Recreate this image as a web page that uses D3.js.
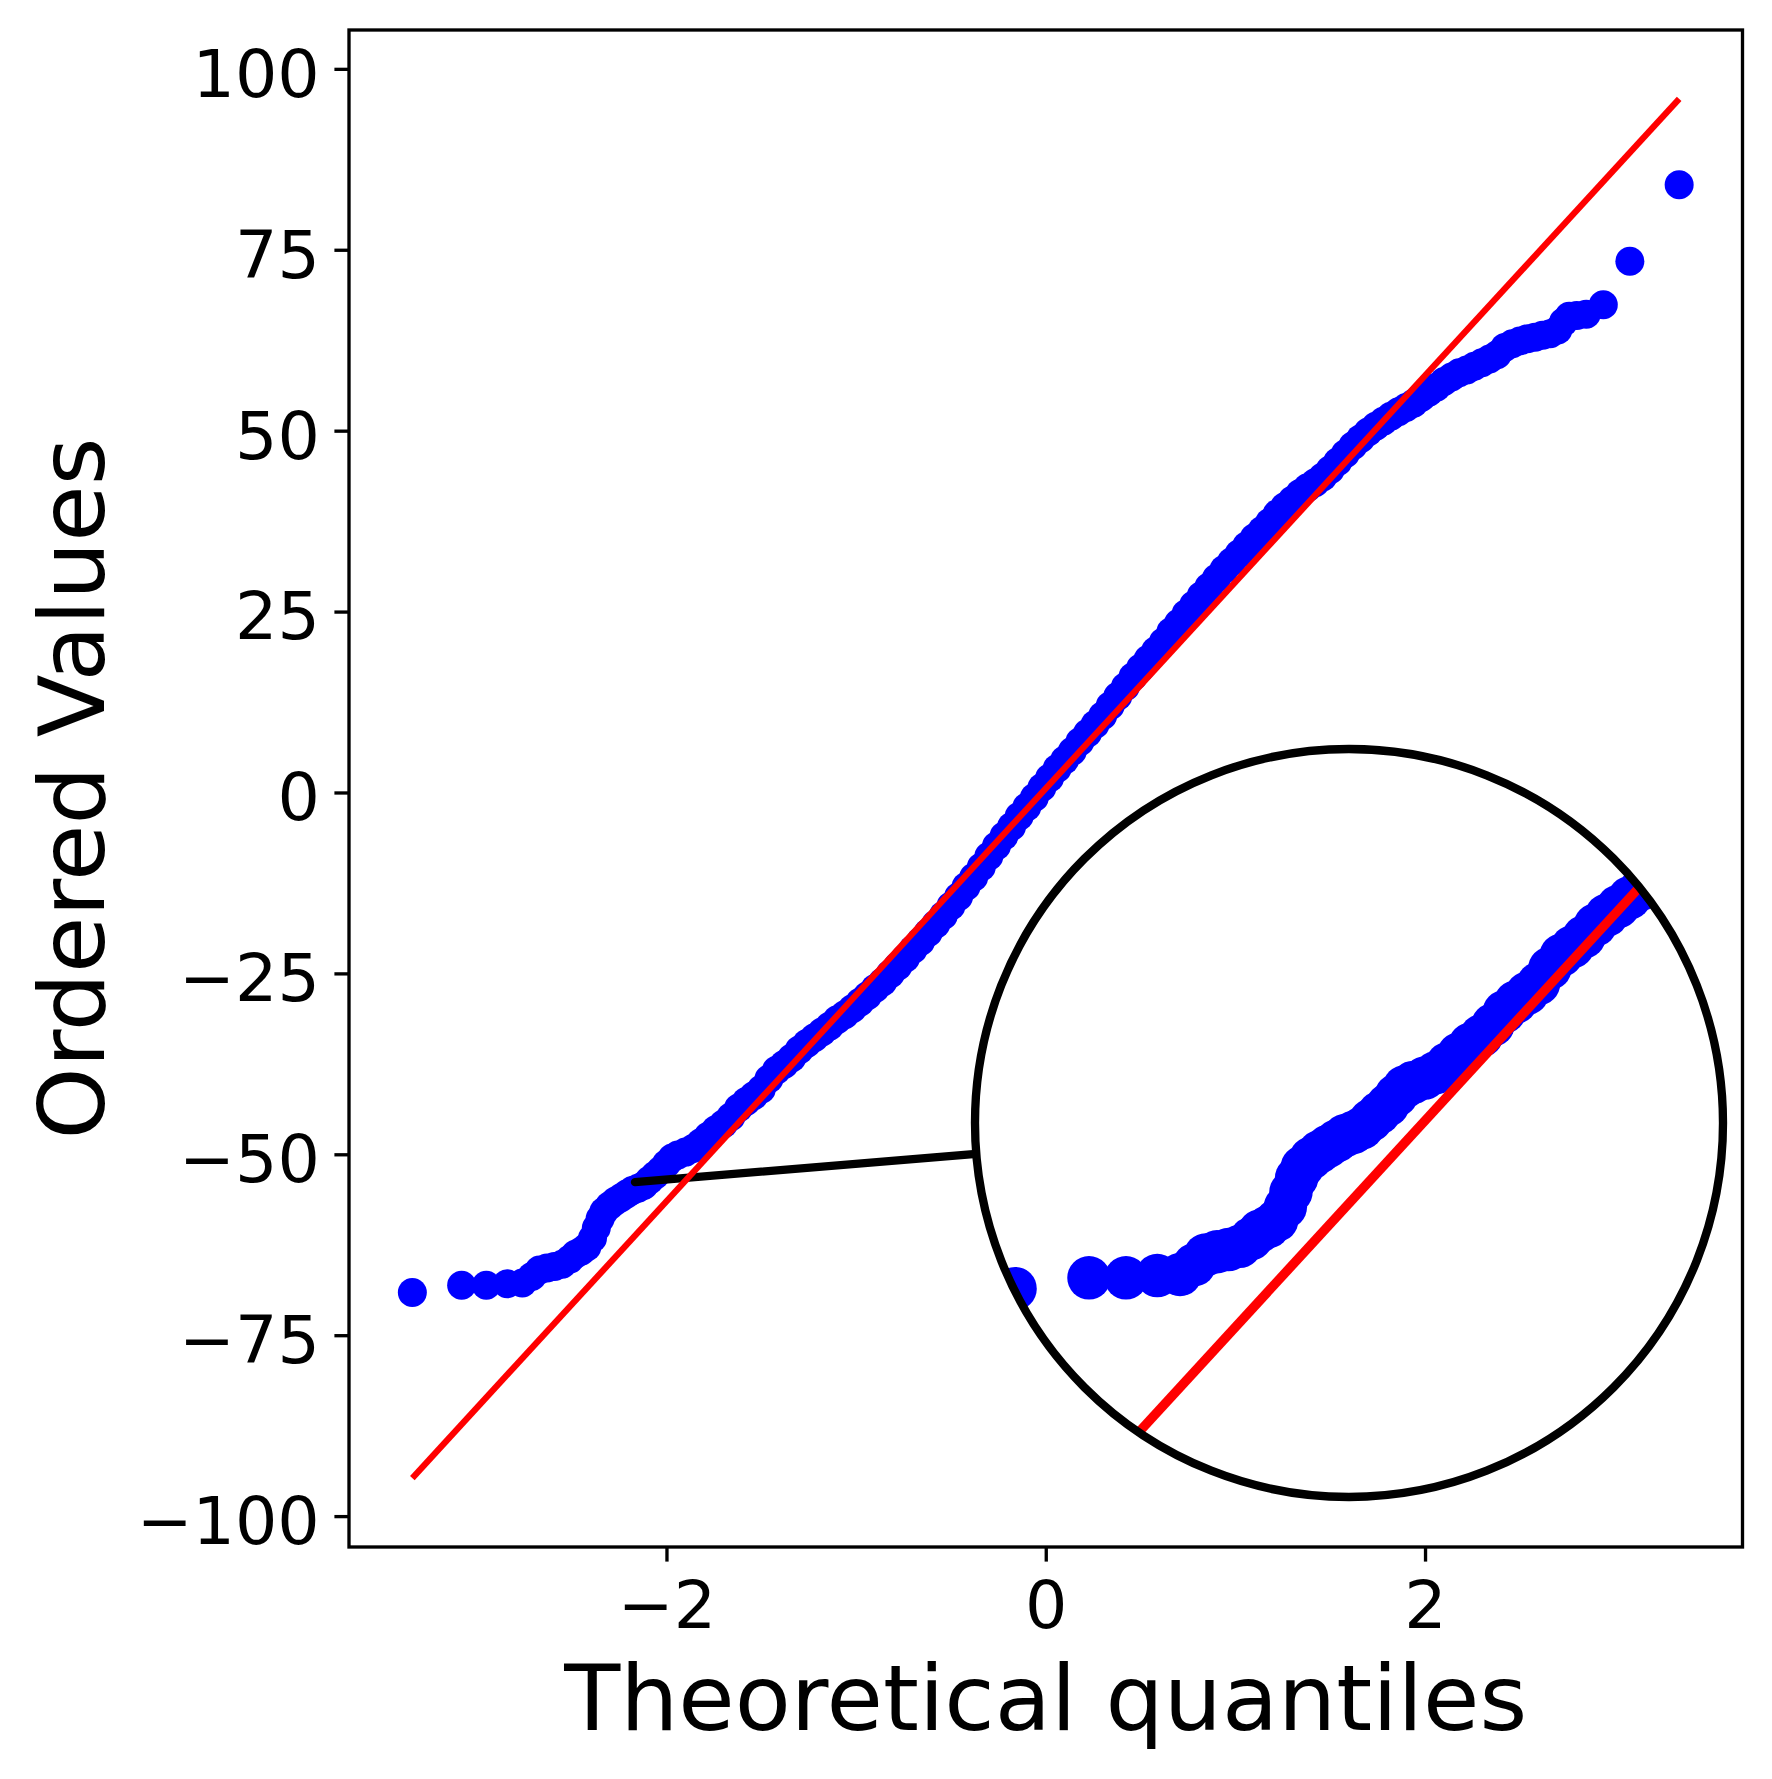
<!DOCTYPE html>
<meta charset="utf-8">
<style>
body { margin: 0; background: #fff; }
text { font-family: "DejaVu Sans", sans-serif; fill: #000; }
.tick line { stroke: #000; stroke-width: 3.33px; }
.domain { display: none; }
</style>
<body>
<script src="https://d3js.org/d3.v7.min.js"></script>
<script>

// theoretical quantiles (x) and ordered values (y)
var qx = [-3.34, -3.08, -2.95, -2.84, -2.76, -2.71, -2.67, -2.63, -2.59, -2.55,
          -2.51, -2.48, -2.45, -2.42, -2.39, -2.37, -2.35, -2.33, -2.30, -2.27,
          -2.24, -2.21, -2.18, -2.15, -2.12, -2.09, -2.06, -2.03, -2.00, -1.97,
          -1.94, -1.90, -1.86, -1.82, -1.78, -1.74, -1.70, -1.66, -1.62, -1.58,
          -1.54, -1.50, -1.46, -1.42, -1.38, -1.34, -1.30, -1.26, -1.22, -1.18,
          -1.14, -1.10, -1.06, -1.02, -0.98, -0.94, -0.90, -0.86, -0.82, -0.78,
          -0.74, -0.70, -0.66, -0.62, -0.58, -0.54, -0.50, -0.46, -0.42, -0.38,
          -0.34, -0.30, -0.26, -0.22, -0.18, -0.14, -0.10, -0.06, -0.02, 0.02,
          0.06, 0.10, 0.14, 0.18, 0.22, 0.26, 0.30, 0.34, 0.38, 0.42,
          0.46, 0.50, 0.54, 0.58, 0.62, 0.66, 0.70, 0.74, 0.78, 0.82,
          0.86, 0.90, 0.94, 0.98, 1.02, 1.06, 1.10, 1.14, 1.18, 1.22,
          1.26, 1.30, 1.34, 1.38, 1.42, 1.46, 1.50, 1.54, 1.58, 1.62,
          1.66, 1.70, 1.74, 1.78, 1.82, 1.86, 1.90, 1.94, 1.98, 2.02,
          2.06, 2.10, 2.14, 2.18, 2.22, 2.26, 2.30, 2.34, 2.38, 2.42,
          2.46, 2.50, 2.54, 2.58, 2.62, 2.66, 2.70, 2.73, 2.76, 2.80,
          2.85, 2.94, 3.08, 3.34];
var qy = [-69.1, -68.1, -68.1, -67.9, -67.8, -66.9, -66.0, -65.7, -65.5, -65.2,
          -64.5, -63.8, -63.4, -62.8, -61.6, -60.2, -58.9, -57.9, -57.1, -56.5,
          -56.0, -55.5, -55.0, -54.7, -54.3, -53.6, -52.9, -52.2, -51.3, -50.5,
          -50.1, -49.7, -49.2, -48.4, -47.5, -46.6, -45.8, -44.8, -43.6, -42.7,
          -41.9, -41.0, -39.6, -38.4, -37.6, -36.7, -35.6, -34.7, -33.9, -33.1,
          -32.3, -31.4, -30.7, -29.9, -29.0, -28.1, -27.1, -26.2, -25.1, -24.0,
          -22.9, -21.7, -20.6, -19.4, -18.2, -17.0, -15.7, -14.4, -13.0, -11.7,
          -10.3, -8.8, -7.4, -6.0, -4.7, -3.3, -2.0, -0.7, 0.7, 2.0,
          3.3, 4.5, 5.7, 7.0, 8.2, 9.4, 10.6, 12.0, 13.3, 14.6,
          16.0, 17.2, 18.4, 19.6, 20.8, 22.2, 23.4, 24.7, 25.9, 27.2,
          28.4, 29.6, 30.8, 31.9, 33.0, 34.1, 35.2, 36.2, 37.3, 38.5,
          39.5, 40.4, 41.3, 42.1, 42.8, 43.6, 44.6, 45.7, 46.8, 47.9,
          48.9, 49.8, 50.6, 51.3, 52.0, 52.6, 53.2, 53.8, 54.6, 55.3,
          56.0, 56.8, 57.4, 58.0, 58.4, 58.9, 59.4, 59.9, 60.5, 61.5,
          62.0, 62.4, 62.7, 62.9, 63.2, 63.4, 63.9, 65.0, 65.8, 65.9,
          66.1, 67.4, 73.4, 84.0];

var xTicks = [-2, 0, 2];
var yTicks = [-100, -75, -50, -25, 0, 25, 50, 75, 100];

// least squares line through the points
var fitSlope = 28.53, fitIntercept = 0.55;

// the point the magnifier looks at (data units)
var lensAt = [-2.166, -53.84];

// page and axes box in pixels
var W = 1772, H = 1779;
var box = {left: 349, right: 1742.5, top: 30, bottom: 1547};
var lens = {cx: 1349, cy: 1123, r: 374, zoom: 1.5};

var fitX = d3.extent(qx);
var fitY = fitX.map(function(v) { return fitIntercept + fitSlope * v; });

// 5% margin like matplotlib autoscale
function pad(ext) {
  var r = ext[1] - ext[0];
  return [ext[0] - 0.05 * r, ext[1] + 0.05 * r];
}

var x = d3.scaleLinear().domain(pad(d3.extent(qx))).range([box.left, box.right]);
var y = d3.scaleLinear().domain(pad(d3.extent(qy.concat(fitY)))).range([box.bottom, box.top]);

var svg = d3.select("body").append("svg")
    .attr("width", W)
    .attr("height", H);

svg.append("rect")
    .attr("width", W)
    .attr("height", H)
    .attr("fill", "#fff");

function fmt(d) { return String(d).replace("-", "\u2212"); }

// axes
svg.append("g")
    .attr("transform", "translate(" + box.left + ",0)")
    .call(d3.axisLeft(y).tickValues(yTicks).tickFormat(fmt).tickSize(14.6).tickPadding(14.6))
    .call(function(g) {
      g.selectAll("text").attr("font-size", 66.7).attr("dy", "0.41em")
        .attr("font-family", "DejaVu Sans");
    });

svg.append("g")
    .attr("transform", "translate(0," + box.bottom + ")")
    .call(d3.axisBottom(x).tickValues(xTicks).tickFormat(fmt).tickSize(14.6).tickPadding(14.6))
    .call(function(g) {
      g.selectAll("text").attr("font-size", 66.7).attr("dy", "0.77em")
        .attr("font-family", "DejaVu Sans");
    });

// draw points into a group
function drawData(g) {
  g.selectAll("circle")
      .data(qx)
    .join("circle")
      .attr("cx", function(d) { return x(d); })
      .attr("cy", function(d, i) { return y(qy[i]); })
      .attr("r", 14.5)
      .attr("fill", "blue");
}

// the red fit line
function drawFit(g) {
  g.append("line")
      .attr("x1", x(fitX[0]))
      .attr("y1", y(fitY[0]))
      .attr("x2", x(fitX[1]))
      .attr("y2", y(fitY[1]))
      .attr("stroke", "red")
      .attr("stroke-width", 6.25);
}

var main = svg.append("g");
drawData(main);

// connector from the looked-at point to the lens rim
var sx = x(lensAt[0]), sy = y(lensAt[1]);
var dx = sx - lens.cx, dy = sy - lens.cy, dl = Math.sqrt(dx * dx + dy * dy);
main.append("line")
    .attr("x1", sx)
    .attr("y1", sy)
    .attr("x2", lens.cx + lens.r * dx / dl)
    .attr("y2", lens.cy + lens.r * dy / dl)
    .attr("stroke", "#000")
    .attr("stroke-width", 8.33)
    .attr("stroke-linecap", "round");

drawFit(main);

// magnifier
svg.append("clipPath")
    .attr("id", "lensclip")
  .append("circle")
    .attr("cx", lens.cx)
    .attr("cy", lens.cy)
    .attr("r", lens.r);

svg.append("circle")
    .attr("cx", lens.cx)
    .attr("cy", lens.cy)
    .attr("r", lens.r)
    .attr("fill", "#fff");

var inner = svg.append("g")
    .attr("clip-path", "url(#lensclip)")
  .append("g")
    .attr("transform", "translate(" + lens.cx + "," + lens.cy + ") scale(" + lens.zoom + ") translate(" + (-sx) + "," + (-sy) + ")");
drawData(inner);
drawFit(inner);

svg.append("circle")
    .attr("cx", lens.cx)
    .attr("cy", lens.cy)
    .attr("r", lens.r)
    .attr("fill", "none")
    .attr("stroke", "#000")
    .attr("stroke-width", 8.33);

// frame
svg.append("rect")
    .attr("x", box.left)
    .attr("y", box.top)
    .attr("width", box.right - box.left)
    .attr("height", box.bottom - box.top)
    .attr("fill", "none")
    .attr("stroke", "#000")
    .attr("stroke-width", 3.33);

// axis labels
svg.append("text")
    .attr("x", (box.left + box.right) / 2)
    .attr("y", 1730)
    .attr("text-anchor", "middle")
    .attr("font-size", 91.7)
    .text("Theoretical quantiles");

svg.append("text")
    .attr("transform", "translate(104," + (box.top + box.bottom) / 2 + ") rotate(-90)")
    .attr("text-anchor", "middle")
    .attr("font-size", 91.7)
    .text("Ordered Values");

</script>
